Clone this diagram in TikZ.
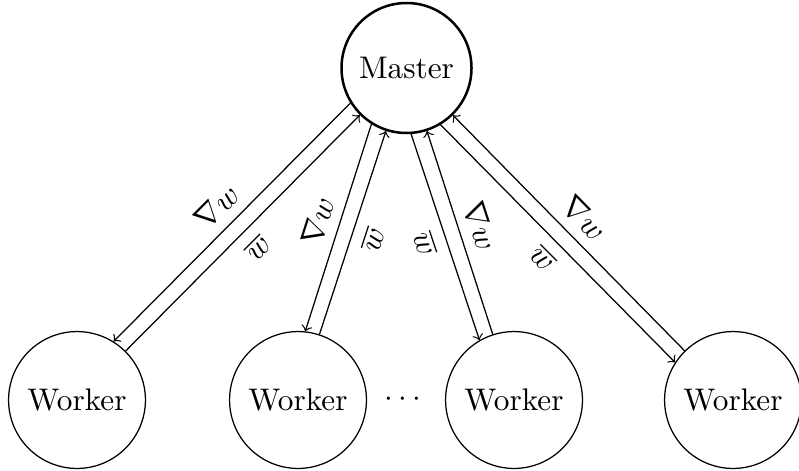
\documentclass[tikz,border=0pt]{standalone}
\begin{document}
\begin{tikzpicture}[x=32pt, y=32pt,
  master/.style={draw, circle, thick, minimum size=41.6pt, inner sep=1pt},
  worker/.style={draw, circle, minimum size=43.8pt, inner sep=1pt}]
  \useasboundingbox (0,0) rectangle (7.99,4.70);
  \node[master] (M) at (4.065,4.02) {Master};
  \node[worker] (W1) at (0.77,0.70) {Worker};
  \node[worker] (W2) at (2.98,0.70) {Worker};
  \node (dots) at (4.03,0.70) {$\cdots$};
  \node[worker] (W3) at (5.14,0.70) {Worker};
  \node[worker] (W4) at (7.33,0.70) {Worker};
  % master -> worker (shifted), worker -> master (centre line)
  \draw[->] (M.212) -- node[sloped, above] {$\nabla w$} (W1.58);
  \draw[->] (W1) -- node[sloped, below] {$\overline{w}$} (M);
  \draw[->] (M.238.6) -- node[sloped, above] {$\nabla w$} (W2.84.6);
  \draw[->] (W2) -- node[sloped, below] {$\overline{w}$} (M);
  \draw[->] (M.274.7) -- node[sloped, below] {$\overline{w}$} (W3.120.6);
  \draw[->] (W3) -- node[sloped, above] {$\nabla w$} (M);
  \draw[->] (M.301.2) -- node[sloped, below] {$\overline{w}$} (W4.147.2);
  \draw[->] (W4) -- node[sloped, above] {$\nabla w$} (M);
\end{tikzpicture}
\end{document}
